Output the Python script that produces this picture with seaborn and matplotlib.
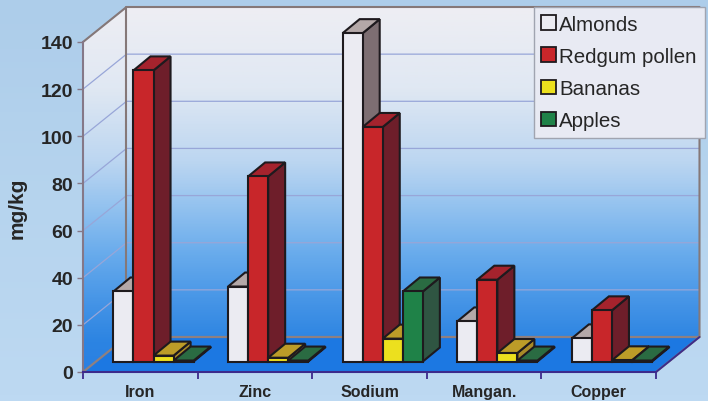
import numpy as np
import pandas as pd
import matplotlib
matplotlib.use('Agg')
import matplotlib.pyplot as plt
import seaborn as sns
from matplotlib.colors import LinearSegmentedColormap
from matplotlib.patches import Polygon

# Values
metals = ['Iron', 'Zinc', 'Sodium', 'Mangan.', 'Copper']
almonds = [29.7, 31.8, 139.3, 17, 9.8]
redgum = [123.5, 78.5, 99.5, 34.7, 21.7]
bananas = [2.5, 1.6, 9.7, 3.6, 0.5]
apples = [0.4, 0.4, 29.7, 0.4, 0.4]
foods = ['Almonds', 'Redgum pollen', 'Bananas', 'Apples']
y_ticks = [0, 20, 40, 60, 80, 100, 120, 140]

front_colors = ['#ebebf2', '#c8262a', '#ece01e', '#1f8248']
side_colors = ['#7d6e72', '#6e1e2a', '#a88a28', '#2f5542']
top_colors = ['#b4a8a8', '#a5232d', '#bc9c28', '#2a6b42']
edge_color = '#1e1a1e'

W, H = 708, 402
LEFT, RIGHT, FLOOR, TOP = 83, 656, 373, 43   # front plane, in pixels
WALL_DX, WALL_DY = 43.5, 35                  # depth of the whole box
BAR_DX, BAR_DY = 17, 14                      # depth of one bar

sns.set_theme(style='white')
plt.rcParams['font.family'] = ['Liberation Sans', 'DejaVu Sans']

fig = plt.figure(figsize=(W / 100, H / 100), dpi=100)

# Background layer in pixel coordinates
bg = fig.add_axes([0, 0, 1, 1], zorder=0)
bg.set_xlim(0, W)
bg.set_ylim(H, 0)
bg.axis('off')
sky = LinearSegmentedColormap.from_list('sky', ['#adcdea', '#b6d4ee', '#bdd9f2'])
bg.imshow(np.linspace(0, 1, 64)[:, None], cmap=sky, extent=[0, W, H, 0], aspect='auto', zorder=0)

wall_cmap = LinearSegmentedColormap.from_list(
    'wall', [(0, '#eeeef3'), (0.22, '#e0e8f3'), (0.42, '#bcd6f1'), (0.55, '#93c2ef'),
             (0.68, '#68abec'), (0.82, '#4393e6'), (0.92, '#2c84e2'), (1, '#2a80e2')])
wall = bg.imshow(np.linspace(0, 1, 128)[:, None], cmap=wall_cmap,
                 extent=[LEFT, RIGHT + WALL_DX, FLOOR, TOP - WALL_DY], aspect='auto', zorder=1)
wall_shape = Polygon([(LEFT, TOP), (LEFT + WALL_DX, TOP - WALL_DY),
                      (RIGHT + WALL_DX, TOP - WALL_DY), (RIGHT + WALL_DX, FLOOR - WALL_DY),
                      (LEFT + WALL_DX, FLOOR - WALL_DY), (LEFT, FLOOR)],
                     transform=bg.transData, fc='none', ec='none')
bg.add_patch(wall_shape)
wall.set_clip_path(wall_shape)
bg.set_xlim(0, W)
bg.set_ylim(H, 0)

bg.add_patch(Polygon([(LEFT, FLOOR), (RIGHT, FLOOR), (RIGHT + WALL_DX, FLOOR - WALL_DY),
                      (LEFT + WALL_DX, FLOOR - WALL_DY)], fc='#1c78e2', ec='none', zorder=2))

# Main axes sit exactly on the front plane
ax = fig.add_axes([LEFT / W, (H - FLOOR) / H, (RIGHT - LEFT) / W, (FLOOR - TOP) / H], zorder=1)
ax.patch.set_alpha(0)

df = pd.DataFrame({
    'metal': metals * 4,
    'food': np.repeat(foods, len(metals)),
    'value': almonds + redgum + bananas + apples,
})
sns.barplot(data=df, x='metal', y='value', hue='food', order=metals, hue_order=foods,
            palette=front_colors, saturation=1, width=0.7, gap=0, edgecolor=edge_color,
            linewidth=1.5, legend=False, ax=ax)

ax.set_xlim(-0.5, len(metals) - 0.5)
ax.set_ylim(0, 140)
ux = (len(metals)) / (RIGHT - LEFT)   # data units per pixel
uy = 140 / (FLOOR - TOP)
wall_dx, wall_dy = WALL_DX * ux, WALL_DY * uy
bar_dx, bar_dy = BAR_DX * ux, BAR_DY * uy
shift_x, shift_y = (wall_dx - bar_dx) / 2, (wall_dy - bar_dy) / 2
x0, x1 = ax.get_xlim()

# Grid lines across left and back walls
for v in y_ticks:
    color = '#8f8080' if v == 0 else '#98a6d8'
    ax.plot([x0, x0 + wall_dx, x1 + wall_dx], [v, v + wall_dy, v + wall_dy],
            color=color, lw=1.6 if v == 0 else 0.9, clip_on=False, zorder=1)

# Box outline
frame = '#857878'
ax.plot([x0, x0 + wall_dx, x1 + wall_dx, x1 + wall_dx, x1],
        [140, 140 + wall_dy, 140 + wall_dy, wall_dy, 0], color=frame, lw=1.5, clip_on=False, zorder=1.5)
ax.plot([x0 + wall_dx, x0 + wall_dx], [wall_dy, 140 + wall_dy], color=frame, lw=1.5, clip_on=False, zorder=1.5)
ax.plot([x1, x1 + wall_dx], [0, wall_dy], color='#3c2a8c', lw=1.3, clip_on=False, zorder=1.6)

# Turn the flat bars into boxes, painting from left to right
for hue_idx, container in enumerate(ax.containers):
    for cat_idx, bar in enumerate(container):
        order = 3 + cat_idx * 4 + hue_idx * 0.5
        bar.set_x(bar.get_x() + shift_x)
        bar.set_y(shift_y)
        bar.set_clip_on(False)
        bar.set_zorder(order + 0.2)
        left, right = bar.get_x(), bar.get_x() + bar.get_width()
        low, high = bar.get_y(), bar.get_y() + bar.get_height()
        side = Polygon([(right, low), (right + bar_dx, low + bar_dy), (right + bar_dx, high + bar_dy),
                        (right, high)], fc=side_colors[hue_idx], ec=edge_color, lw=1.5,
                       clip_on=False, zorder=order)
        top = Polygon([(left, high), (right, high), (right + bar_dx, high + bar_dy),
                       (left + bar_dx, high + bar_dy)], fc=top_colors[hue_idx], ec=edge_color, lw=1.5,
                      clip_on=False, zorder=order + 0.1)
        ax.add_patch(side)
        ax.add_patch(top)

# Axes furniture
sns.despine(ax=ax, top=True, right=True)
ax.spines['bottom'].set_color('#3c2a8c')
ax.spines['bottom'].set_linewidth(1.5)
ax.spines['left'].set_color('#857888')
ax.spines['left'].set_linewidth(1.5)
ax.set_xticks(np.arange(len(metals) + 1) - 0.5, labels=[''] * (len(metals) + 1))
ax.set_xticks(np.arange(len(metals)), labels=metals, minor=True)
ax.set_yticks(y_ticks)
ax.tick_params(axis='x', which='major', length=5, width=1.3, color='#3c2a8c', bottom=True)
ax.tick_params(axis='x', which='minor', length=0, pad=9, labelsize=11.5, labelcolor='#262626', bottom=False)
ax.tick_params(axis='y', length=4, width=1, color='#857888', left=True, pad=3, labelsize=14, labelcolor='#262626')
for label in ax.get_xticklabels(minor=True) + ax.get_yticklabels():
    label.set_fontweight('bold')
ax.set_xlabel('')
ax.set_ylabel('')
fig.text(17 / W, 1 - 208 / H, 'mg/kg', rotation=90, ha='center', va='center',
         fontsize=15, fontweight='bold', color='#262626')

# Legend
handles = [plt.Rectangle((0, 0), 1, 1, fc=c, ec=edge_color, lw=1.3) for c in front_colors]
leg = fig.legend(handles, foods, loc='upper left', bbox_to_anchor=(533.5 / W, 1 - 8 / H),
                 borderaxespad=0, fontsize=14.8, frameon=True, fancybox=False, facecolor='#e8eaf3',
                 edgecolor='#a0a4b0', framealpha=1, handlelength=0.72, handleheight=0.72,
                 handletextpad=0.15, labelspacing=0.64, borderpad=0.38, labelcolor='#262626')
leg.set_zorder(10)

fig.savefig('out.png', dpi=100)
